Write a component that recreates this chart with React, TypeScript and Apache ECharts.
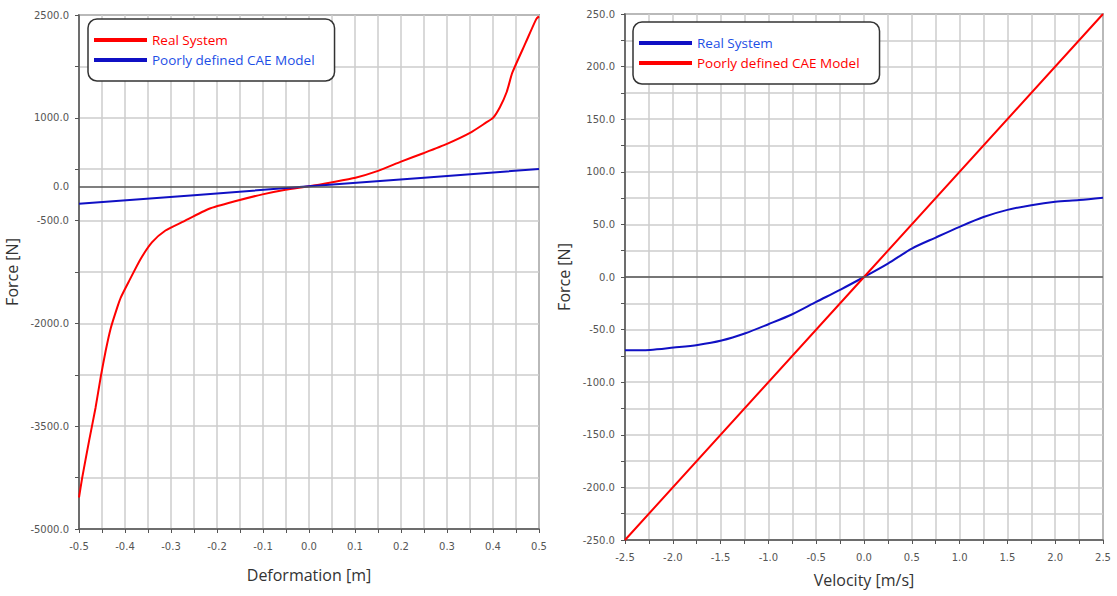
import React, { useEffect, useRef } from 'react';
import * as echarts from 'echarts';

// Left chart: Force [N] vs Deformation [m]
const deformationReal: [number, number][] = [
  [-0.5, -4540], [-0.493, -4250], [-0.478, -3710], [-0.464, -3230], [-0.453, -2790],
  [-0.442, -2400], [-0.431, -2070], [-0.417, -1770], [-0.409, -1620], [-0.391, -1380],
  [-0.366, -1060], [-0.341, -815], [-0.312, -645], [-0.275, -520], [-0.217, -327],
  [-0.159, -215], [-0.101, -117], [-0.051, -49], [0, 0], [0.051, 60], [0.101, 125],
  [0.15, 225], [0.2, 360], [0.25, 487], [0.3, 620], [0.35, 780], [0.384, 926],
  [0.4, 999], [0.415, 1155], [0.43, 1380], [0.442, 1658], [0.471, 2096], [0.494, 2440],
  [0.5, 2480],
];
const deformationModel: [number, number][] = [
  [-0.5, -255], [-0.25, -130], [0, 0], [0.25, 127], [0.5, 253],
];
const deformationRange = [-0.5, 0.5];
const deformationStep = 0.05;
const forceRangeLeft = [-5000, 2500];
const forceStepLeft = 750;
const forceLabelStepLeft = 1500;

// Right chart: Force [N] vs Velocity [m/s]
const velocityReal: [number, number][] = [
  [-2.5, -69.6], [-2.24, -69.3], [-1.99, -67.1], [-1.74, -64.6], [-1.49, -60.4],
  [-1.24, -53.5], [-1.0, -44.9], [-0.75, -35.4], [-0.5, -23.7], [-0.24, -11.7],
  [0, 0], [0.25, 12.7], [0.5, 27], [0.75, 37.5], [1.0, 47.7], [1.25, 57.0],
  [1.5, 63.8], [1.75, 68.3], [2.0, 71.5], [2.25, 73.1], [2.5, 75.3],
];
const velocityModel: [number, number][] = [
  [-2.5, -250], [0, 0], [2.5, 250],
];
const velocityRange = [-2.5, 2.5];
const velocityStep = 0.25;
const forceRangeRight = [-250, 250];
const forceStepRight = 25;

const RED = '#ff0000';
const BLUE = '#1010c4';
const BLUE_TEXT = '#1d4fe6';
const GRID_COLOR = '#cdcdcd';
const AXIS_COLOR = '#555555';
const LABEL_FONT = 'DejaVu Sans';
const TITLE_FONT = 'Open Sans';

// left y axis is drawn on a shifted scale so its ticks start at the axis minimum
const FORCE_OFFSET = -forceRangeLeft[0];

const fmt1 = (v: number) => (Math.round(v * 10) / 10 + 0).toFixed(1);

const axisCommon = {
  axisLine: { show: true, onZero: false, lineStyle: { color: AXIS_COLOR, width: 1.5 } },
  axisTick: { show: true, inside: false, length: 4, lineStyle: { color: AXIS_COLOR, width: 1 } },
  splitLine: { show: true, lineStyle: { color: GRID_COLOR, width: 1.5 } },
  nameTextStyle: { fontFamily: TITLE_FONT, fontSize: 16, color: '#333' },
};

const legendCommon = {
  orient: 'vertical',
  icon: 'rect',
  itemWidth: 53,
  itemHeight: 4,
  itemGap: 6,
  padding: [14, 20, 14, 6],
  borderColor: '#333',
  borderWidth: 1.5,
  borderRadius: 9,
  backgroundColor: '#fff',
  selectedMode: false,
  textStyle: { fontFamily: TITLE_FONT, fontSize: 13.5 },
};

function leftOption(): any {
  return {
    animation: false,
    backgroundColor: 'transparent',
    grid: { left: 79, top: 15, width: 460, height: 514, show: true, borderColor: AXIS_COLOR, borderWidth: 1.5, outerBoundsMode: 'none' },
    legend: {
      ...legendCommon,
      left: 88,
      top: 19,
      data: [
        { name: 'Real System', textStyle: { color: RED } },
        { name: 'Poorly defined CAE Model', textStyle: { color: BLUE_TEXT } },
      ],
    },
    xAxis: {
      type: 'value',
      min: deformationRange[0],
      max: deformationRange[1],
      interval: deformationStep,
      name: 'Deformation [m]',
      nameLocation: 'middle',
      nameGap: 38,
      ...axisCommon,
      axisLabel: {
        fontFamily: LABEL_FONT,
        fontSize: 10,
        color: AXIS_COLOR,
        margin: 12,
        formatter: (v: number) => (Math.round(v * 100) % 10 === 0 ? fmt1(v) : ''),
      },
    },
    yAxis: {
      type: 'value',
      min: forceRangeLeft[0] + FORCE_OFFSET,
      max: forceRangeLeft[1] + FORCE_OFFSET,
      interval: forceStepLeft,
      name: 'Force [N]',
      nameLocation: 'middle',
      nameGap: 48,
      ...axisCommon,
      axisLabel: {
        fontFamily: LABEL_FONT,
        fontSize: 10,
        color: AXIS_COLOR,
        margin: 10,
        formatter: (v: number) =>
          Math.round(v) % forceLabelStepLeft === 0 ? fmt1(v - FORCE_OFFSET) : '',
      },
    },
    series: [
      {
        name: 'Real System',
        type: 'line',
        showSymbol: false,
        smooth: 0.2,
        color: RED,
        lineStyle: { color: RED, width: 2 },
        data: deformationReal.map(([x, y]) => [x, y + FORCE_OFFSET]),
        markLine: {
          silent: true,
          symbol: ['none', 'none'],
          lineStyle: { color: AXIS_COLOR, width: 1.5, type: 'solid' },
          label: {
            show: true,
            position: 'start',
            distance: 10,
            formatter: '0.0',
            fontFamily: LABEL_FONT,
            fontSize: 10,
            color: AXIS_COLOR,
          },
          data: [{ yAxis: 0 + FORCE_OFFSET }],
        },
        z: 3,
      },
      {
        name: 'Poorly defined CAE Model',
        type: 'line',
        showSymbol: false,
        color: BLUE,
        lineStyle: { color: BLUE, width: 2 },
        data: deformationModel.map(([x, y]) => [x, y + FORCE_OFFSET]),
        z: 4,
      },
    ],
  };
}

function rightOption(): any {
  return {
    animation: false,
    backgroundColor: 'transparent',
    grid: { left: 85, top: 14, width: 478, height: 526, show: true, borderColor: AXIS_COLOR, borderWidth: 1.5, outerBoundsMode: 'none' },
    legend: {
      ...legendCommon,
      left: 93,
      top: 22,
      data: [
        { name: 'Real System', textStyle: { color: BLUE_TEXT } },
        { name: 'Poorly defined CAE Model', textStyle: { color: RED } },
      ],
    },
    xAxis: {
      type: 'value',
      min: velocityRange[0],
      max: velocityRange[1],
      interval: velocityStep,
      name: 'Velocity [m/s]',
      nameLocation: 'middle',
      nameGap: 32,
      ...axisCommon,
      axisLabel: {
        fontFamily: LABEL_FONT,
        fontSize: 10,
        color: AXIS_COLOR,
        margin: 12,
        formatter: (v: number) => (Math.round(v * 100) % 50 === 0 ? fmt1(v) : ''),
      },
    },
    yAxis: {
      type: 'value',
      min: forceRangeRight[0],
      max: forceRangeRight[1],
      interval: forceStepRight,
      name: 'Force [N]',
      nameLocation: 'middle',
      nameGap: 40,
      ...axisCommon,
      axisLabel: {
        fontFamily: LABEL_FONT,
        fontSize: 10,
        color: AXIS_COLOR,
        margin: 10,
        formatter: (v: number) => (Math.round(v) % 50 === 0 ? fmt1(v) : ''),
      },
    },
    series: [
      {
        name: 'Real System',
        type: 'line',
        showSymbol: false,
        smooth: 0.3,
        color: BLUE,
        lineStyle: { color: BLUE, width: 2 },
        data: velocityReal,
        markLine: {
          silent: true,
          symbol: ['none', 'none'],
          lineStyle: { color: AXIS_COLOR, width: 1.5, type: 'solid' },
          label: { show: false },
          data: [{ yAxis: 0 }],
        },
        z: 3,
      },
      {
        name: 'Poorly defined CAE Model',
        type: 'line',
        showSymbol: false,
        color: RED,
        lineStyle: { color: RED, width: 2 },
        data: velocityModel,
        z: 4,
      },
    ],
  };
}

function ChartBox({ option, style }: { option: () => any; style: React.CSSProperties }) {
  const ref = useRef<HTMLDivElement | null>(null);
  useEffect(() => {
    if (!ref.current) return;
    const chart = echarts.init(ref.current, undefined, { renderer: 'svg' });
    chart.setOption(option());
    return () => chart.dispose();
  }, [option]);
  return <div ref={ref} style={style} />;
}

export default function App() {
  return (
    <div style={{ position: 'absolute', left: 0, top: 0, width: 1117, height: 596, background: '#fff', overflow: 'hidden' }}>
      <ChartBox option={leftOption} style={{ position: 'absolute', left: 0, top: 0, width: 560, height: 596 }} />
      <ChartBox option={rightOption} style={{ position: 'absolute', left: 540, top: 0, width: 577, height: 596 }} />
    </div>
  );
}
